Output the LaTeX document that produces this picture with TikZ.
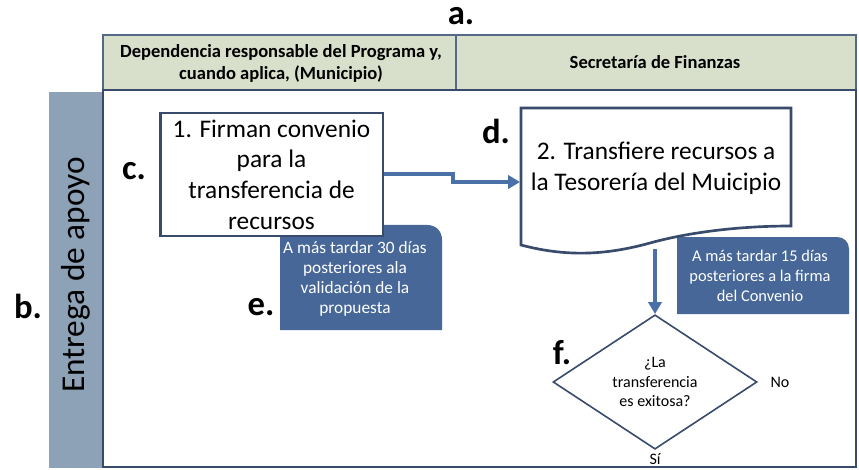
\documentclass[tikz,border=0pt]{standalone}
\usepackage{fontspec}
\setmainfont{Carlito}
\usetikzlibrary{shapes.geometric,arrows.meta,positioning}
\definecolor{hdrfill}{RGB}{216,223,203}
\definecolor{hdrline}{RGB}{84,104,136}
\definecolor{lanefill}{RGB}{141,162,183}
\definecolor{navy}{RGB}{56,75,108}
\definecolor{flowblue}{RGB}{74,112,168}
\definecolor{notefill}{RGB}{70,103,152}

\begin{document}
\begin{tikzpicture}[x=0.75pt,y=-0.75pt,
  letter/.style={font=\fontsize{26}{26}\selectfont\bfseries, inner sep=0pt},
  procbox/.style={draw=navy, line width=2pt, fill=white, align=center,
    font=\fontsize{19}{23}\selectfont},
  notetext/.style={text=white, align=center, inner sep=0pt},
  flow/.style={draw=flowblue, line width=3pt, -{Triangle[length=9pt,width=10pt]}}]
  \useasboundingbox (0,0) rectangle (859,470);
  % header
  \draw[hdrline, line width=1pt, fill=hdrfill] (103,35) rectangle (856,90);
  \draw[hdrline, line width=1pt] (456,35) -- (456,90);
  \node[font=\fontsize{13.9}{16.5}\selectfont\bfseries, align=center] (hdr1) at (281,63)
    {Dependencia responsable del Programa y,\\ cuando aplica, (Municipio)};
  \node[font=\fontsize{13.9}{16.5}\selectfont\bfseries] (hdr2) at (655,62) {Secretaría de Finanzas};
  % lane
  \fill[lanefill] (49,92) rectangle (102,468);
  \draw[navy, line width=2.2pt, fill=white] (103,90) rectangle (856,467);
  \node[rotate=90, font=\fontsize{25}{25}\selectfont] (lane) at (76,275) {Entrega de apoyo};
  % notes (behind the boxes)
  \fill[notefill] (280,330) -- (280,225) -- (427,225)
    .. controls (436,225) and (442,231) .. (442,240) -- (442,330) -- cycle;
  \node[notetext, font=\fontsize{13}{15}\selectfont] (note1) at (355,279)
    {A más tardar 30 días\\ posteriores ala\\ validación de la\\ propuesta};
  \fill[notefill] (677,314) -- (677,237) -- (837,237)
    .. controls (844,237) and (849,242) .. (849,249) -- (849,314) -- cycle;
  \node[notetext, font=\fontsize{12.3}{14.8}\selectfont] (note2) at (760,276)
    {A más tardar 15 días\\ posteriores a la firma\\ del Convenio};
  % step 1
  \node[procbox, minimum width=167pt, minimum height=92pt] (box1) at (271.5,174.5)
    {1. Firman convenio\\ para la\\ transferencia de\\ recursos};
  % step 2 (document shape)
  \draw[navy, line width=2pt, fill=white] (521,108) -- (791,108) -- (791,226)
    .. controls (740,226) and (690,232) .. (650,243)
    .. controls (610,254) and (570,258) .. (521,245) -- cycle;
  \node[font=\fontsize{19}{23}\selectfont, align=center] (box2) at (656,168)
    {2. Transfiere recursos a\\ la Tesorería del Muicipio};
  \coordinate (din) at (520,182);
  \coordinate (dout) at (655,249);
  % decision
  \node[diamond, draw=navy, line width=1.2pt, fill=white, minimum width=153pt,
    minimum height=100pt, inner sep=0pt, align=center,
    font=\fontsize{12}{14.6}\selectfont] (dec) at (655,382)
    {¿La\\ transferencia\\ es exitosa?};
  \node[font=\fontsize{12}{12}\selectfont, right=6pt of dec.east] (no) {No};
  \node[font=\fontsize{12}{12}\selectfont, below=-1pt of dec.south] (si) {Sí};
  % connectors
  \draw[flow] (box1.east) -- ++(69,0) |- (din);
  \draw[flow] (dout) -- (dec.north);
  % letters
  \node[letter] (la) at (461,16) {a.};
  \node[letter] (lb) at (28,306) {b.};
  \node[letter] (lc) at (134,171) {c.};
  \node[letter] (ld) at (496,131) {d.};
  \node[letter] (le) at (261,307) {e.};
  \node[letter] (lf) at (562,353) {f.};
\end{tikzpicture}
\end{document}
